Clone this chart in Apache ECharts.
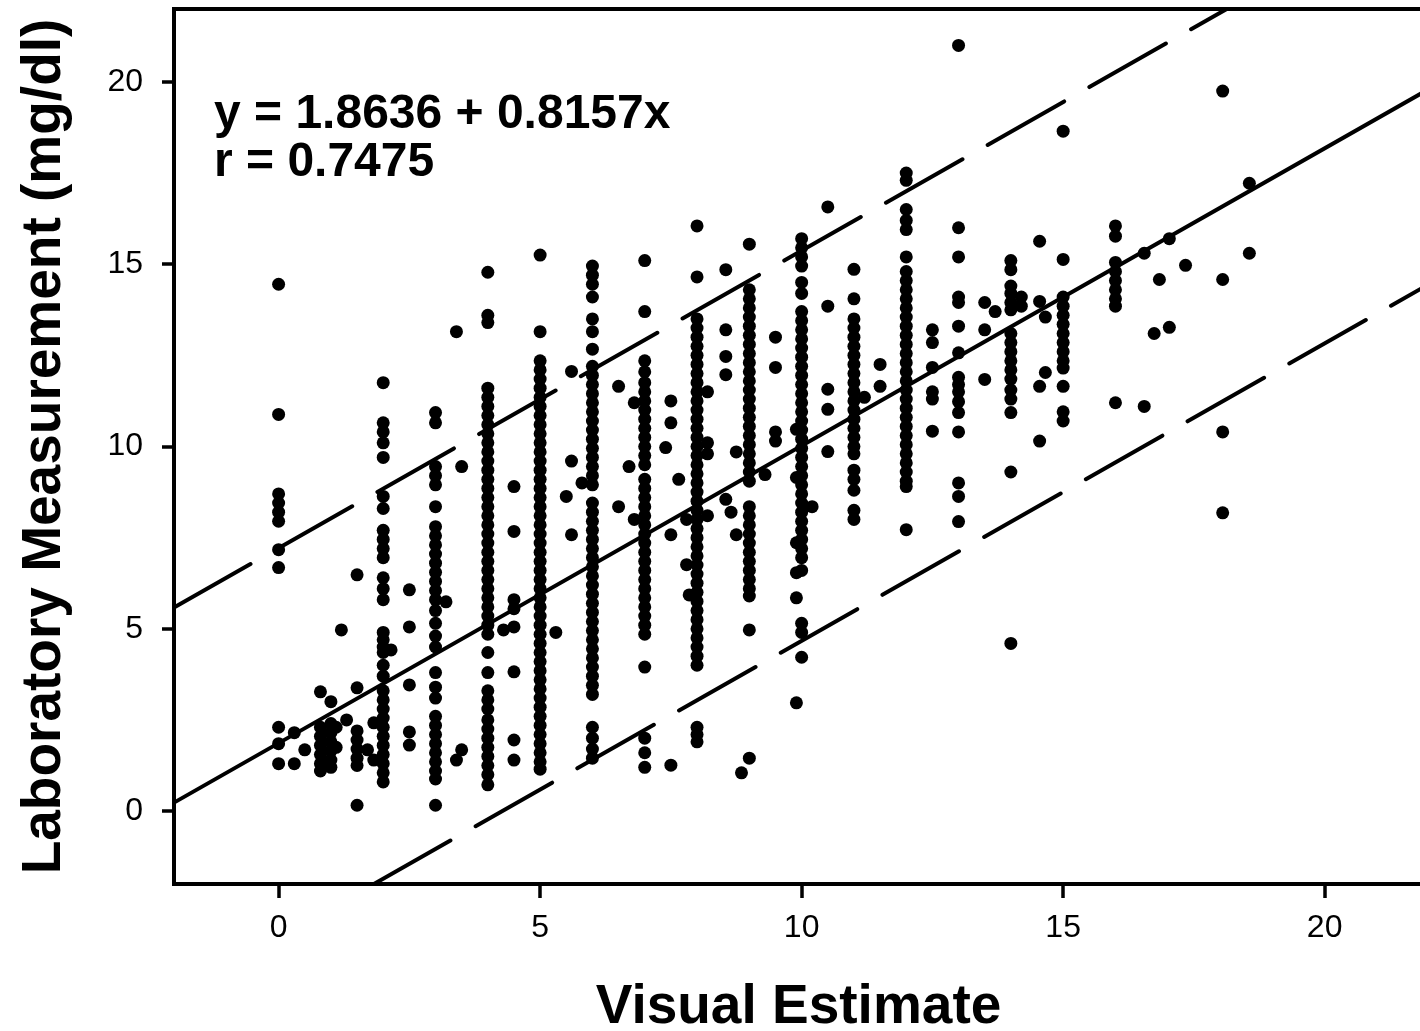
<!DOCTYPE html>
<html>
<head>
<meta charset="utf-8">
<script src="https://cdn.jsdelivr.net/npm/echarts@6/dist/echarts.min.js"></script>
<style>
  html, body { margin: 0; padding: 0; background: #fff; }
  #main { width: 1420px; height: 1031px; }
</style>
</head>
<body>
<div id="main"></div>
<script>
// visual estimate (x) and the lab measurements read at that x
const estimates = [
  0, 0.3, 0.5, 0.8, 1.0, 1.1, 1.2, 1.3, 1.5, 1.7, 1.82,
  2, 2.15, 2.5, 3, 3.2, 3.4, 3.5,
  4, 4.3, 4.5, 5, 5.3, 5.5, 5.6, 5.8,
  6, 6.5, 6.7, 6.8, 7, 7.4, 7.5, 7.65, 7.8, 7.85,
  8, 8.2, 8.55, 8.65, 8.75, 8.85, 9, 9.3, 9.5, 9.9,
  10, 10.2, 10.5, 11, 11.2, 11.5, 12, 12.5, 13, 13.5, 13.7,
  14, 14.2, 14.55, 14.66, 15, 16, 16.55, 16.74, 16.84, 17.03, 17.34, 18.05, 18.56
]
const measurements = [
  [14.45, 10.88, 8.7, 8.45, 8.2, 7.95, 7.17, 6.68, 2.3, 1.85, 1.3],
  [2.15, 1.3],
  [1.68],
  [3.27, 2.3, 2.05, 1.8, 1.55, 1.3, 1.1],
  [3.0, 2.4, 2.15, 1.9, 1.65, 1.4, 1.2],
  [2.3, 1.75],
  [4.97],
  [2.5],
  [6.48, 3.38, 2.2, 1.95, 1.7, 1.45, 1.25, 0.16],
  [1.68],
  [2.42, 1.4],
  [11.75, 10.65, 10.4, 10.1, 9.7, 8.63, 8.3, 7.7, 7.45, 7.2, 6.95, 6.4, 6.1, 5.8, 4.9, 4.7, 4.5, 4.35, 4.0, 3.7,
   3.3, 3.05, 2.8, 2.55, 2.3, 2.05, 1.8, 1.55, 1.3, 1.05, 0.8],
  [4.42],
  [6.07, 5.05, 3.46, 2.17, 1.81],
  [10.93, 10.65, 9.45, 9.2, 8.95, 8.35, 7.8, 7.55, 7.3, 7.05, 6.8, 6.55, 6.3, 6.05, 5.8, 5.5, 5.15, 4.8, 4.5,
   3.8, 3.4, 3.1, 2.6, 2.35, 2.1, 1.85, 1.6, 1.35, 1.1, 0.88, 0.16],
  [5.74],
  [13.15, 1.4],
  [9.45, 1.68],
  [14.78, 13.6, 13.4, 11.6, 11.35, 11.1, 10.85, 10.6, 10.35, 10.1, 9.85, 9.6, 9.35, 9.1, 8.85, 8.6, 8.35, 8.1,
   7.85, 7.6, 7.35, 7.1, 6.85, 6.6, 6.35, 6.1, 5.85, 5.6, 5.35, 5.1, 4.85, 4.35, 3.8, 3.3, 3.05, 2.8, 2.5,
   2.25, 2.0, 1.75, 1.5, 1.25, 1.0, 0.72],
  [4.97],
  [8.9, 7.67, 5.8, 5.55, 5.05, 3.82, 1.95, 1.4],
  [15.25, 13.15, 12.35, 12.1, 11.85, 11.6, 11.35, 11.1, 10.85, 10.6, 10.35, 10.1, 9.85, 9.6, 9.35, 9.1, 8.85,
   8.6, 8.35, 8.1, 7.85, 7.6, 7.35, 7.1, 6.85, 6.6, 6.35, 6.1, 5.85, 5.6, 5.35, 5.1, 4.85, 4.6, 4.35, 4.1,
   3.85, 3.6, 3.35, 3.1, 2.85, 2.6, 2.35, 2.1, 1.85, 1.6, 1.35, 1.15],
  [4.9],
  [8.63],
  [12.06, 9.6, 7.58],
  [9.0],
  [14.95, 14.7, 14.45, 14.1, 13.5, 13.15, 12.67, 12.2, 11.95, 11.7, 11.45, 11.2, 10.95, 10.7, 10.45, 10.2,
   9.95, 9.7, 9.45, 9.2, 8.95, 8.45, 8.2, 7.95, 7.7, 7.45, 7.2, 6.95, 6.7, 6.45, 6.2, 5.95, 5.7, 5.45, 5.2,
   4.95, 4.7, 4.45, 4.2, 3.95, 3.7, 3.45, 3.2, 2.3, 2.0, 1.7, 1.45],
  [11.65, 8.35],
  [9.45],
  [11.2, 8.0],
  [15.1, 13.7, 12.35, 12.05, 11.75, 11.5, 11.25, 11.0, 10.75, 10.5, 10.25, 10.0, 9.75, 9.5, 9.1, 8.85, 8.6,
   8.35, 8.1, 7.85, 7.6, 7.35, 7.1, 6.85, 6.6, 6.35, 6.1, 5.85, 5.6, 5.35, 5.1, 4.85, 3.95, 2.0, 1.6, 1.2],
  [9.97],
  [11.25, 10.65, 7.58, 1.26],
  [9.1],
  [8.0, 6.76],
  [5.93],
  [16.05, 14.65, 13.5, 13.25, 13.0, 12.75, 12.5, 12.25, 12.0, 11.75, 11.5, 11.25, 11.0, 10.75, 10.5, 10.25,
   10.0, 9.75, 9.5, 9.25, 9.0, 8.75, 8.5, 8.25, 8.0, 7.75, 7.5, 7.25, 7.0, 6.75, 6.5, 6.25, 6.0, 5.75, 5.5,
   5.25, 5.0, 4.75, 4.5, 4.25, 4.0, 2.3, 2.1, 1.9],
  [11.5, 10.1, 9.8, 8.1],
  [14.85, 13.2, 12.47, 11.97, 8.55],
  [8.2],
  [9.85, 7.58],
  [1.05],
  [15.55, 14.3, 14.05, 13.8, 13.55, 13.3, 13.05, 12.8, 12.55, 12.3, 12.05, 11.8, 11.55, 11.3, 11.05, 10.8,
   10.55, 10.3, 10.05, 9.8, 9.55, 9.3, 9.05, 8.35, 8.1, 7.85, 7.6, 7.35, 7.1, 6.85, 6.6, 6.35, 6.1, 5.9,
   4.97, 1.45],
  [9.23],
  [13.0, 12.17, 10.4, 10.15],
  [10.47, 9.15, 7.36, 6.54, 5.85, 2.97],
  [15.7, 15.45, 15.2, 14.95, 14.5, 14.2, 13.7, 13.45, 13.2, 12.95, 12.7, 12.45, 12.2, 11.95, 11.7, 11.45,
   11.2, 10.95, 10.7, 10.45, 10.2, 9.95, 9.7, 9.45, 9.2, 8.95, 8.7, 8.45, 8.2, 7.95, 7.7, 7.45, 7.2, 6.95,
   6.6, 5.15, 4.9, 4.22],
  [8.35],
  [16.57, 13.85, 11.57, 11.02, 9.86],
  [14.86, 14.05, 13.5, 13.25, 13.0, 12.75, 12.5, 12.25, 12.0, 11.75, 11.5, 11.25, 11.0, 10.75, 10.5, 10.25,
   10.0, 9.8, 9.35, 9.1, 8.8, 8.25, 8.0],
  [11.35],
  [12.25, 11.65],
  [17.5, 17.3, 16.5, 16.2, 15.95, 15.2, 14.8, 14.55, 14.3, 14.05, 13.8, 13.55, 13.3, 13.05, 12.8, 12.55,
   12.3, 12.05, 11.8, 11.55, 11.3, 11.05, 10.8, 10.55, 10.3, 10.05, 9.8, 9.55, 9.3, 9.05, 8.9, 7.72],
  [13.2, 12.85, 12.17, 11.5, 11.3, 10.42],
  [21.0, 16.0, 15.2, 14.1, 13.95, 13.3, 12.57, 11.9, 11.7, 11.5, 11.23, 10.93, 10.4, 9.0, 8.63, 7.94],
  [13.95, 13.2, 11.84],
  [13.7],
  [15.1, 14.85, 14.4, 14.2, 13.95, 13.75, 13.1, 12.85, 12.6, 12.35, 12.1, 11.85, 11.55, 11.3, 10.93, 9.3, 4.6],
  [14.1, 13.85],
  [15.63, 13.98, 11.65, 10.15],
  [13.55, 12.03],
  [18.65, 15.13, 14.1, 13.85, 13.6, 13.35, 13.1, 12.85, 12.6, 12.35, 12.15, 11.65, 10.95, 10.7],
  [16.05, 15.77, 15.05, 14.8, 14.55, 14.3, 14.05, 13.85, 11.2],
  [15.3, 11.1],
  [13.1],
  [14.58],
  [15.7, 13.27],
  [14.97],
  [19.75, 14.58, 10.4, 8.18],
  [17.22, 15.3]
]

// regression shown on the chart, and the half width of the dashed band
const intercept = 1.8636
const slope = 0.8157
const band = 5.35

const xTicks = [0, 5, 10, 15, 20]
const yTicks = [0, 5, 10, 15, 20]

let points = []
for (let i = 0; i < estimates.length; i++) {
  let ys = measurements[i]
  for (let j = 0; j < ys.length; j++) {
    points.push([estimates[i], ys[j]])
  }
}

let xMin = -2
let xMax = 21.88
let yMin = -2
let yMax = 22

let fit = function(x, off) {
  return intercept + slope * x + off
}
// lower band begins where it leaves the bottom of the frame
let lowStart = (yMin - intercept + band) / slope
let upEnd = (yMax - intercept - band) / slope

let font = '"Liberation Sans", Arial, Helvetica, sans-serif'

let chart = echarts.init(document.getElementById('main'))

let lineSeries = function(data, type) {
  return {
    type: 'line',
    data: data,
    showSymbol: false,
    symbol: 'none',
    silent: true,
    animation: false,
    lineStyle: { color: '#000', width: 4, type: type, cap: 'round', opacity: 1 },
    z: 3
  }
}

let option = {
  animation: false,
  backgroundColor: '#fff',
  grid: {
    left: 174,
    top: 9,
    width: 1249,
    height: 875,
    outerBoundsMode: 'none',
    containLabel: false,
    show: true,
    borderColor: '#000',
    borderWidth: 4,
    backgroundColor: 'transparent'
  },
  xAxis: {
    type: 'value',
    min: xMin,
    max: xMax,
    name: 'Visual Estimate',
    nameLocation: 'middle',
    nameGap: 96,
    nameTextStyle: { fontFamily: font, fontWeight: 'bold', fontSize: 55, color: '#000' },
    axisLine: { show: false, onZero: false },
    axisTick: { show: true, inside: false, length: 14, customValues: xTicks,
      lineStyle: { color: '#000', width: 3.5 } },
    axisLabel: { customValues: xTicks, margin: 28, fontFamily: font, fontSize: 32, color: '#000' },
    splitLine: { show: false }
  },
  yAxis: {
    type: 'value',
    min: yMin,
    max: yMax,
    name: 'Laboratory Measurement (mg/dl)',
    nameLocation: 'middle',
    nameGap: 102,
    nameTextStyle: { fontFamily: font, fontWeight: 'bold', fontSize: 55, color: '#000' },
    axisLine: { show: false, onZero: false },
    axisTick: { show: true, inside: false, length: 12, customValues: yTicks,
      lineStyle: { color: '#000', width: 3.5 } },
    axisLabel: { customValues: yTicks, margin: 31, fontFamily: font, fontSize: 32, color: '#000' },
    splitLine: { show: false }
  },
  graphic: [{
    type: 'text',
    left: 214,
    top: 91,
    style: {
      text: 'y = 1.8636 + 0.8157x\nr = 0.7475',
      font: 'bold 48px ' + font,
      lineHeight: 48,
      fill: '#000'
    },
    z: 10
  }],
  series: [
    {
      type: 'scatter',
      data: points,
      symbol: 'circle',
      symbolSize: 13,
      itemStyle: { color: '#000', opacity: 1 },
      silent: true,
      z: 2
    },
    lineSeries([[xMin, fit(xMin, 0)], [xMax, fit(xMax, 0)]], 'solid'),
    lineSeries([[xMin, fit(xMin, band)], [upEnd, fit(upEnd, band)]], [88, 29]),
    lineSeries([[lowStart, fit(lowStart, -band)], [xMax, fit(xMax, -band)]], [88, 29])
  ]
}

chart.setOption(option)
</script>
</body>
</html>
